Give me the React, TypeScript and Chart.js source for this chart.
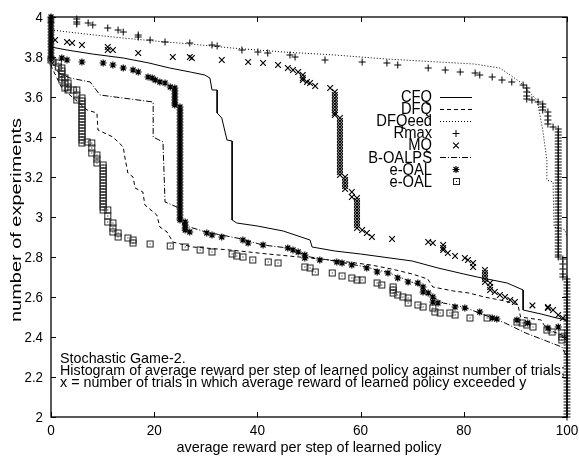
import React, { useEffect, useRef } from "react";
import { Chart, registerables } from "chart.js";

Chart.register(...registerables);

// ---- axis ticks ----
const xTicks = [0, 20, 40, 60, 80, 100];
const xTickLabels = ["0", "20", "40", "60", "80", "100"];
const yTicks = [2, 2.2, 2.4, 2.6, 2.8, 3, 3.2, 3.4, 3.6, 3.8, 4];
const yTickLabels = ["2", "2.2", "2.4", "2.6", "2.8", "3", "3.2", "3.4", "3.6", "3.8", "4"];

const xTitle = "average reward per step of learned policy";
const yTitle = "number of experiments";
const noteLines = [
  "Stochastic Game-2.",
  "Histogram of average reward per step of learned policy against number of trials;",
  "x = number of trials in which average reward of learned policy exceeded y",
];

// ---- line series (x = reward, y = value) ----
const cfq = [
  [0, 3.85], [3.1, 3.835], [8, 3.815], [14, 3.795], [19, 3.77], [23, 3.745], [27, 3.725],
  [29.8, 3.71], [30.8, 3.695], [31.2, 3.635], [32.2, 3.635], [32.2, 3.52], [33.1, 3.495],
  [34.1, 3.385], [35.1, 3.38], [35.1, 2.985], [36, 2.97], [40, 2.955], [45, 2.93],
  [50.2, 2.885], [50.6, 2.85], [55, 2.83], [60, 2.815], [65.7, 2.795], [70, 2.78],
  [75, 2.745], [80, 2.715], [82.6, 2.7], [88.4, 2.67], [91.5, 2.635], [91.5, 2.535],
  [95, 2.515], [98, 2.495], [100, 2.485],
];

const dfq = [
  [0, 3.76], [0.2, 3.745], [2.1, 3.645], [7, 3.535], [8.9, 3.52], [9.1, 3.435], [12, 3.4],
  [14, 3.35], [14.3, 3.3], [14.9, 3.22], [15.9, 3.2], [16.3, 3.145], [17.8, 3.125],
  [18.2, 3.06], [20.5, 3.01], [21.1, 2.95], [22.5, 2.925], [23.6, 2.875], [27.5, 2.85],
  [34.7, 2.835], [42, 2.815], [50.2, 2.795], [56, 2.78], [62, 2.76], [66, 2.74],
  [70, 2.715], [73, 2.69], [74, 2.65], [76, 2.64], [78, 2.63], [81, 2.62], [84, 2.6],
  [88, 2.58], [90.5, 2.56], [91, 2.5], [95, 2.485], [96, 2.44], [99, 2.41], [100, 2.38],
];

const dfqeed = [
  [0, 3.935], [5, 3.92], [12, 3.9], [20, 3.88], [27, 3.865], [35, 3.845], [45, 3.825],
  [55, 3.81], [65, 3.79], [75, 3.775], [82, 3.765], [87, 3.745], [90.9, 3.675],
  [92.5, 3.63], [94.2, 3.585], [95.3, 3.435], [96.1, 3.285], [96.1, 3.185], [97.3, 3.175],
  [97.5, 2.95], [99.6, 2.935], [100, 2.9],
];

const boalps = [
  [0, 3.78], [1.5, 3.72], [3.7, 3.695], [7.6, 3.675], [9.5, 3.61], [19.8, 3.575],
  [19.8, 3.4], [21.7, 3.375], [22.1, 3.075], [24.4, 3.05], [25.6, 2.96], [30, 2.925],
  [37, 2.89], [41, 2.86], [46, 2.845], [50.2, 2.8], [55, 2.78], [60, 2.755], [65, 2.725],
  [69.5, 2.68], [72, 2.65], [74, 2.6], [76, 2.57], [80, 2.55], [85, 2.5], [88, 2.47],
  [92, 2.42], [96, 2.38], [99, 2.35], [100, 2.3],
];

// ---- point series: scattered points + dense vertical runs [x, [y...]] ----
const rmax = [
  [0, 3.995], [0, 3.975], [5, 3.99], [5, 3.975], [5, 3.965], [7.2, 3.97], [8.1, 3.96],
  [11, 3.945], [13, 3.935], [14, 3.925], [16.9, 3.91], [16.9, 3.9], [19.2, 3.885],
  [22.1, 3.875], [26.9, 3.87], [31.2, 3.86], [32.2, 3.855], [37, 3.835], [40.1, 3.825],
  [42, 3.82], [46.3, 3.81], [47.3, 3.8], [53.1, 3.785], [60.3, 3.775], [65.1, 3.77],
  [67.2, 3.76], [73.1, 3.745], [76.4, 3.735], [79.3, 3.725], [82.2, 3.72], [83.1, 3.71],
  [85.5, 3.7], [87.4, 3.685], [89.3, 3.675], [91.5, 3.66], [92.2, 3.645], [92.2, 3.625],
  [92.2, 3.605], [92.2, 3.59], [93.2, 3.585], [94.4, 3.575], [95.3, 3.565], [95.3, 3.55],
  [95.3, 3.535], [96.3, 3.525], [96.3, 3.505], [96.3, 3.485], [96.3, 3.465], [97.3, 3.45],
  [99.2, 2.79], [99.2, 2.765], [99.2, 2.74], [99.2, 2.715], [99.2, 2.7],
];
const rmaxRuns: [number, number[]][] = [
  [98.3, [3.44, 3.425, 3.41, 3.395, 3.38, 3.365, 3.35, 3.335, 3.32, 3.305, 3.29, 3.275, 3.26,
    3.245, 3.23, 3.215, 3.2, 3.185, 3.17, 3.155, 3.14, 3.125, 3.11, 3.095, 3.08, 3.065, 3.05,
    3.035, 3.02, 3.005, 2.99, 2.975, 2.96, 2.945, 2.93, 2.915, 2.9, 2.885, 2.87, 2.855, 2.84,
    2.825, 2.81, 2.8]],
  [100, [2.69, 2.675, 2.66, 2.645, 2.63, 2.615, 2.6, 2.585, 2.57, 2.555, 2.54, 2.525, 2.51,
    2.495, 2.48, 2.465, 2.45, 2.435, 2.42, 2.405, 2.39, 2.375, 2.36, 2.345, 2.33, 2.315, 2.3,
    2.285, 2.27, 2.255, 2.24, 2.225, 2.21, 2.195, 2.18, 2.165, 2.15, 2.135, 2.12, 2.105, 2.09,
    2.075, 2.06, 2.045, 2.03, 2.015, 2.0]],
];

const mq = [
  [0.8, 3.885], [3.1, 3.875], [4.1, 3.87], [6, 3.86], [11, 3.85], [11, 3.835], [12, 3.835],
  [16.9, 3.82], [23.6, 3.8], [26.9, 3.8], [27.3, 3.795], [33.1, 3.785], [38.2, 3.775],
  [41.1, 3.77], [44, 3.76], [45.9, 3.745], [46.9, 3.735], [47.9, 3.725], [48.8, 3.71],
  [48.8, 3.695], [48.8, 3.685], [49.6, 3.675], [50.2, 3.67], [51.2, 3.655], [54.1, 3.645],
  [58.3, 3.125], [58.3, 3.1], [60.3, 2.935],
  [61.2, 2.92], [62.2, 2.9], [66.1, 2.89], [73.1, 2.875], [74, 2.87], [76, 2.86],
  [76, 2.845], [76, 2.835], [76.9, 2.82], [78.3, 2.805], [80.2, 2.795], [80.8, 2.785],
  [81.8, 2.77], [81.8, 2.75], [84.1, 2.735], [84.1, 2.72], [84.1, 2.705], [84.1, 2.69],
  [84.1, 2.675], [85.1, 2.67], [85.1, 2.65], [85.1, 2.635], [86, 2.625], [87, 2.61],
  [88, 2.6], [89, 2.585], [89.9, 2.575], [93.3, 2.558], [96.3, 2.55], [96.3, 2.545],
  [97.3, 2.535], [98.3, 2.51], [99.2, 2.495],
];
const mqRuns: [number, number[]][] = [
  [55, [3.625, 3.61, 3.595, 3.58, 3.565, 3.55, 3.535, 3.52, 3.51]],
  [56, [3.495, 3.48, 3.465, 3.45, 3.435, 3.42, 3.405, 3.39, 3.375, 3.36, 3.345, 3.33, 3.315,
    3.3, 3.285, 3.27, 3.255, 3.24, 3.225, 3.21]],
  [57, [3.2, 3.185, 3.17, 3.155, 3.14]],
  [59.3, [3.095, 3.08, 3.065, 3.05, 3.035, 3.02, 3.005, 2.99, 2.975, 2.96, 2.945]],
];

const eoalStar = [
  [2.1, 3.795], [3.1, 3.785], [6, 3.775],
  [10.1, 3.77], [12, 3.76], [14, 3.745], [15.9, 3.735], [16.9, 3.725], [18.8, 3.7],
  [19.6, 3.695], [20.2, 3.685], [21.1, 3.675], [22.1, 3.67], [23.1, 3.65],
  [26.9, 2.925], [30.2, 2.92], [31.2, 2.91],
  [33.1, 2.9], [37.2, 2.885], [38.2, 2.87], [41.1, 2.86], [45.9, 2.845], [46.9, 2.835],
  [47.9, 2.825], [49.2, 2.81], [49.2, 2.795], [52.1, 2.785], [55.4, 2.775], [56.4, 2.77],
  [58.3, 2.76], [61.2, 2.745], [63.2, 2.725], [65.3, 2.72], [67.2, 2.695], [69.2, 2.675],
  [71.1, 2.67], [72.1, 2.65], [72.1, 2.625], [73.1, 2.62], [74, 2.6], [74, 2.575],
  [75, 2.57], [78.3, 2.55], [80.2, 2.545], [83.1, 2.525], [85.5, 2.495], [86.4, 2.49],
  [90.3, 2.485], [92.4, 2.47], [96.3, 2.445], [98.3, 2.45],
];
const eoalStarRuns: [number, number[]][] = [
  [0, [4.0, 3.985, 3.97, 3.955, 3.94, 3.925, 3.91, 3.895, 3.88, 3.865, 3.85, 3.835, 3.82,
    3.805, 3.79]],
  [24, [3.645, 3.63, 3.615, 3.6, 3.585, 3.57, 3.56]],
  [25, [3.55, 3.535, 3.52, 3.505, 3.49, 3.475, 3.46, 3.445, 3.43, 3.415, 3.4, 3.385, 3.37,
    3.355, 3.34, 3.325, 3.31, 3.295, 3.28, 3.265, 3.25, 3.235, 3.22, 3.205, 3.19, 3.175, 3.16,
    3.145, 3.13, 3.115, 3.1, 3.085, 3.07, 3.055, 3.04, 3.025, 3.01, 2.995, 2.985]],
  [26, [2.975, 2.96, 2.945, 2.935]],
];

const eoalSquare = [
  [0, 3.785], [0.4, 3.775], [1.4, 3.77], [1.4, 3.75],
  [2.7, 3.695], [2.7, 3.67], [2.7, 3.645], [3.3, 3.67],
  [3.3, 3.65], [3.3, 3.635], [4.3, 3.635], [5, 3.635], [5, 3.61], [5, 3.585],
  [7, 3.375], [7.9, 3.37], [7.9, 3.345], [7.9, 3.32],
  [8.9, 3.31], [8.9, 3.29], [8.9, 3.27],
  [11, 3.035], [11, 3.005], [11, 2.975], [12, 2.97], [12, 2.945],
  [12, 2.925], [13, 2.92], [13, 2.9], [14.9, 2.895], [15.9, 2.885], [15.9, 2.87],
  [19.2, 2.865], [23.1, 2.855], [26, 2.85], [28.9, 2.835], [31.2, 2.825], [35.1, 2.815],
  [36, 2.805], [37.2, 2.8], [39.1, 2.785], [42.1, 2.775], [44, 2.77], [49.2, 2.75],
  [50.2, 2.745], [51.2, 2.725], [54.5, 2.72], [56.4, 2.705], [58.3, 2.695], [59.3, 2.685],
  [60.3, 2.685], [63.2, 2.67], [64.1, 2.66], [66.3, 2.65], [66.3, 2.635], [66.3, 2.62],
  [67.2, 2.61], [68.2, 2.6], [69.2, 2.595], [69.2, 2.57], [71.1, 2.56], [72.1, 2.55],
  [74, 2.545], [74.4, 2.525], [75.4, 2.52], [77.3, 2.52], [78.3, 2.51], [81.2, 2.495],
  [84.5, 2.495], [90.3, 2.475], [91.3, 2.47], [92.2, 2.46], [93.4, 2.45], [96.1, 2.435],
  [97.1, 2.425], [99, 2.42], [99, 2.4], [99, 2.385],
];
const eoalSquareRuns: [number, number[]][] = [
  [2.1, [3.745, 3.73, 3.715, 3.7, 3.685]],
  [6, [3.595, 3.58, 3.565, 3.55, 3.535, 3.52, 3.505, 3.49, 3.475, 3.46, 3.445, 3.43, 3.415,
    3.4, 3.385, 3.37]],
  [10.1, [3.26, 3.245, 3.23, 3.215, 3.2, 3.185, 3.17, 3.155, 3.14, 3.125, 3.11, 3.095, 3.08,
    3.065, 3.05, 3.035]],
];

const FONT = '"Liberation Sans", Arial, Helvetica, sans-serif';

function toXY(arr: number[][], runs: [number, number[]][] = []) {
  const pts = arr.map((p) => ({ x: p[0], y: p[1] }));
  runs.forEach(([x, ys]) => ys.forEach((y) => pts.push({ x, y })));
  return pts;
}

function makeSquareImage() {
  const c = document.createElement("canvas");
  c.width = 9;
  c.height = 9;
  const g = c.getContext("2d")!;
  g.strokeStyle = "#222";
  g.lineWidth = 1;
  g.strokeRect(1.5, 1.5, 6, 6);
  g.fillStyle = "#000";
  g.fillRect(4, 4, 1, 1);
  return c;
}

function drawText(ctx: CanvasRenderingContext2D, text: string, x: number, y: number, align: CanvasTextAlign, sx: number) {
  ctx.save();
  ctx.translate(x, y);
  ctx.scale(sx, 1);
  ctx.textAlign = align;
  ctx.fillText(text, 0, 0);
  ctx.restore();
}

function drawMarker(ctx: CanvasRenderingContext2D, style: any, x: number, y: number, r: number, lw: number) {
  ctx.save();
  ctx.strokeStyle = "#000";
  ctx.lineWidth = lw;
  ctx.beginPath();
  if (style === "cross" || style === "star") {
    ctx.moveTo(x - r, y);
    ctx.lineTo(x + r, y);
    ctx.moveTo(x, y - r);
    ctx.lineTo(x, y + r);
  }
  if (style === "crossRot" || style === "star") {
    const d = r * 0.7071;
    ctx.moveTo(x - d, y - d);
    ctx.lineTo(x + d, y + d);
    ctx.moveTo(x - d, y + d);
    ctx.lineTo(x + d, y - d);
  }
  ctx.stroke();
  if (style instanceof HTMLCanvasElement) {
    ctx.drawImage(style, Math.round(x - style.width / 2), Math.round(y - style.height / 2));
  }
  ctx.restore();
}

const decorPlugin = {
  id: "gnuplotDecor",
  beforeDatasetsDraw(chart: any) {
    const ctx: CanvasRenderingContext2D = chart.ctx;
    const { left, right, top, bottom } = chart.chartArea;
    const xs = chart.scales.x;
    const ys = chart.scales.y;
    ctx.save();
    ctx.strokeStyle = "#000";
    ctx.lineWidth = 1.3;
    ctx.strokeRect(left, top, right - left, bottom - top);
    ctx.lineWidth = 1;
    ctx.beginPath();
    const tl = 5;
    xTicks.forEach((v) => {
      const px = Math.round(xs.getPixelForValue(v)) + 0.5;
      ctx.moveTo(px, bottom);
      ctx.lineTo(px, bottom - tl);
      ctx.moveTo(px, top);
      ctx.lineTo(px, top + tl);
    });
    yTicks.forEach((v) => {
      const py = Math.round(ys.getPixelForValue(v)) + 0.5;
      ctx.moveTo(left, py);
      ctx.lineTo(left + tl, py);
      ctx.moveTo(right, py);
      ctx.lineTo(right - tl, py);
    });
    ctx.stroke();

    ctx.fillStyle = "#000";
    ctx.font = `14px ${FONT}`;
    ctx.textBaseline = "alphabetic";
    xTicks.forEach((v, i) => {
      drawText(ctx, xTickLabels[i], xs.getPixelForValue(v), bottom + 18, "center", 0.97);
    });
    yTicks.forEach((v, i) => {
      drawText(ctx, yTickLabels[i], left - 8, ys.getPixelForValue(v) + 5, "right", 0.95);
    });

    // axis titles
    ctx.font = `15px ${FONT}`;
    const xw = ctx.measureText(xTitle).width;
    drawText(ctx, xTitle, (left + right) / 2, 452, "center", 265 / xw);
    const yw = ctx.measureText(yTitle).width;
    ctx.save();
    ctx.translate(21, (top + bottom) / 2 + 3);
    ctx.rotate(-Math.PI / 2);
    ctx.scale(204 / yw, 1);
    ctx.textAlign = "center";
    ctx.fillText(yTitle, 0, 0);
    ctx.restore();

    // note text
    ctx.font = `15px ${FONT}`;
    const nw = ctx.measureText(noteLines[1]).width;
    const nsx = 505 / nw;
    noteLines.forEach((t, i) => {
      drawText(ctx, t, left + 9, 363 + i * 12, "left", nsx);
    });
    ctx.restore();
  },
  afterDraw(chart: any) {
    const ctx: CanvasRenderingContext2D = chart.ctx;
    ctx.save();
    ctx.fillStyle = "#000";
    ctx.font = `16px ${FONT}`;
    ctx.textBaseline = "alphabetic";
    const textRight = 432;
    chart.data.datasets.forEach((ds: any, i: number) => {
      const base = 102 + i * 12.1;
      const cy = base - 5.5;
      drawText(ctx, ds.label, textRight, base, "right", 0.92);
      if (ds.showLine) {
        ctx.save();
        ctx.strokeStyle = "#000";
        ctx.lineWidth = 1;
        ctx.setLineDash(ds.borderDash || []);
        ctx.beginPath();
        ctx.moveTo(440, Math.round(cy) + 0.5);
        ctx.lineTo(472, Math.round(cy) + 0.5);
        ctx.stroke();
        ctx.restore();
      } else {
        drawMarker(ctx, ds.pointStyle, 456, Math.round(cy) + 0.5, ds.pointRadius, ds.pointBorderWidth);
      }
    });
    ctx.restore();
  },
};

export default function App() {
  const ref = useRef<HTMLCanvasElement>(null);
  useEffect(() => {
    if (!ref.current) return;
    const square = makeSquareImage();
    const lineDs = (label: string, arr: number[][], dash: number[]) => ({
      label,
      data: toXY(arr),
      showLine: true,
      borderColor: "#000",
      borderWidth: 1,
      borderDash: dash,
      pointRadius: 0,
      clip: false,
    });
    const ptDs = (label: string, arr: number[][], runs: [number, number[]][], style: any, r: number, lw: number) => ({
      label,
      data: toXY(arr, runs),
      showLine: false,
      pointStyle: style,
      pointRadius: r,
      borderColor: "#000",
      backgroundColor: "rgba(0,0,0,0)",
      pointBorderWidth: lw,
      clip: false,
    });
    const chart = new Chart(ref.current, {
      type: "scatter",
      data: {
        datasets: [
          lineDs("CFQ", cfq, []),
          lineDs("DFQ", dfq, [4, 3]),
          lineDs("DFQeed", dfqeed, [1, 2]),
          ptDs("Rmax", rmax, rmaxRuns, "cross", 3.5, 1),
          ptDs("MQ", mq, mqRuns, "crossRot", 4, 1.15),
          lineDs("B-OALPS", boalps, [6, 2, 1, 2]),
          ptDs("e-OAL", eoalStar, eoalStarRuns, "star", 3.5, 1.15),
          ptDs("e-OAL", eoalSquare, eoalSquareRuns, square, 4, 1),
        ] as any,
      },
      options: {
        animation: false,
        responsive: false,
        events: [],
        layout: { padding: { left: 51, right: 12, top: 17, bottom: 40 } },
        plugins: { legend: { display: false }, tooltip: { enabled: false } },
        scales: {
          x: { type: "linear", min: 0, max: 100, display: false },
          y: { type: "linear", min: 2, max: 4, display: false },
        },
      },
      plugins: [decorPlugin],
    });
    return () => chart.destroy();
  }, []);
  return (
    <div style={{ position: "fixed", left: 0, top: 0, width: 579, height: 457, background: "#fff" }}>
      <canvas ref={ref} width={579} height={457} style={{ display: "block" }} />
    </div>
  );
}
